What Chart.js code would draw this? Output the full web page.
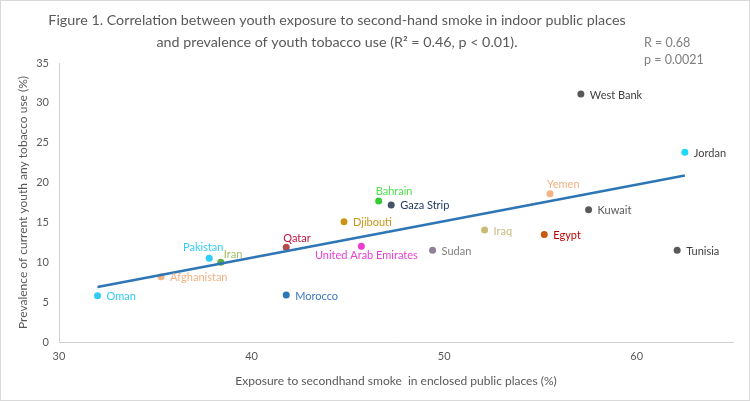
<!DOCTYPE html>
<html><head><meta charset="utf-8">
<script src="https://cdn.jsdelivr.net/npm/chart.js@4"></script>
<style>html,body{margin:0;padding:0;background:#fff;}#wrap{width:750px;height:401px;}</style>
</head><body><div id="wrap"><canvas id="c" width="750" height="401"></canvas></div>
<script>
// ---- data ----
const countries = ["Oman","Afghanistan","Pakistan","Iran","Qatar","Morocco","United Arab Emirates","Djibouti","Bahrain","Gaza Strip","Sudan","Iraq","Egypt","Yemen","Kuwait","West Bank","Jordan","Tunisia"];
const exposure  = [32.0, 35.3, 37.8, 38.4, 41.8, 41.8, 45.7, 44.8, 46.6, 47.25, 49.4, 52.1, 55.2, 55.5, 57.5, 57.1, 62.5, 62.1];
const prevalence= [5.8, 8.2, 10.5, 10.0, 11.9, 5.9, 12.0, 15.1, 17.7, 17.2, 11.5, 14.05, 13.5, 18.6, 16.6, 31.1, 23.8, 11.5];
const trendX = [32.0, 62.5];
const trendY = [6.9, 20.9];
const xTicks = [30, 40, 50, 60];
const yTicks = [0, 5, 10, 15, 20, 25, 30, 35];
const titleLines = ["Figure 1. Correlation between youth exposure to second-hand smoke in indoor public places", "and prevalence of youth tobacco use (R\u00B2 = 0.46, p < 0.01)."];
const statLines = ["R = 0.68", "p = 0.0021"];
const xTitle = "Exposure to secondhand smoke  in enclosed public places (%)";
const yTitle = "Prevalence of current youth any tobacco use (%)";

// ---- styles ----
const markerColors = ["#33ccf5","#f4b183","#33ccf5","#5fae3f","#b84a48","#2e75b6","#e83fd1","#c9961a","#33cc33","#44546a","#8e7f9a","#c9bb70","#c55a11","#f4b183","#595959","#595959","#1fd8f5","#595959"];
const labelColors  = ["#33ccf5","#f4b183","#33ccf5","#9cbf63","#c0143c","#3a78c0","#e83fd1","#c9961a","#4fe34f","#1f3864","#7f7f7f","#c9bb80","#c00000","#f4b183","#595959","#404040","#404040","#404040"];
const labelPlace   = ["right","right","aboveLeft","aboveRight","above","right","below","right","above","right","right","right","right","above","right","right","right","right"];
const FONT = "Lato, 'Liberation Sans', sans-serif";

const labelPlugin = {
  id: 'labels',
  afterDatasetsDraw(chart) {
    const ctx = chart.ctx, xs = chart.scales.x, ys = chart.scales.y;
    ctx.save();
    ctx.font = "11px " + FONT;
    countries.forEach((name, i) => {
      const px = xs.getPixelForValue(exposure[i]);
      const py = ys.getPixelForValue(prevalence[i]);
      ctx.fillStyle = labelColors[i];
      ctx.textBaseline = 'middle';
      const p = labelPlace[i];
      if (p === 'right') { ctx.textAlign = 'left'; ctx.fillText(name, px + 9, py + 1); }
      else if (p === 'above') { ctx.textAlign = 'left'; ctx.fillText(name, px - 3, py - 9); }
      else if (p === 'aboveLeft') { ctx.textAlign = 'center'; ctx.fillText(name, px - 6, py - 11); }
      else if (p === 'aboveRight') { ctx.textAlign = 'left'; ctx.fillText(name, px + 3, py - 8); }
      else if (p === 'below') { ctx.textAlign = 'center'; ctx.fillText(name, px + 5, py + 9); }
    });
    ctx.restore();
  }
};
const decorPlugin = {
  id: 'decor',
  beforeDraw(chart) {
    const ctx = chart.ctx;
    ctx.save();
    ctx.fillStyle = '#fff'; ctx.fillRect(0, 0, 750, 401);
    ctx.strokeStyle = '#d9d9d9'; ctx.lineWidth = 1; ctx.strokeRect(0.5, 0.5, 749, 400);
    ctx.fillStyle = '#595959'; ctx.textAlign = 'center'; ctx.textBaseline = 'middle';
    ctx.font = "14.3px " + FONT;
    ctx.fillText(titleLines[0], 337, 20);
    ctx.fillText(titleLines[1], 337, 42);
    ctx.font = "12.5px " + FONT; ctx.textAlign = 'left'; ctx.fillStyle = '#7f7f7f';
    ctx.fillText(statLines[0], 644, 43);
    ctx.fillText(statLines[1], 644, 60);
    ctx.restore();
  }
};

new Chart(document.getElementById('c'), {
  type: 'scatter',
  data: {
    datasets: [
      {
        type: 'line',
        data: trendX.map((x, i) => ({x, y: trendY[i]})),
        borderColor: '#2e75b6', borderWidth: 2.5, pointRadius: 0, fill: false
      },
      {
        data: exposure.map((x, i) => ({x, y: prevalence[i]})),
        backgroundColor: markerColors, borderColor: markerColors, pointRadius: 3.5, pointBorderWidth: 0
      }
    ]
  },
  options: {
    responsive: false, animation: false, devicePixelRatio: 1,
    layout: { padding: { left: 0, right: 17, top: 63, bottom: 0 } },
    plugins: { legend: { display: false }, tooltip: { enabled: false }, title: { display: false } },
    scales: {
      x: {
        type: 'linear', min: 30, max: 65,
        afterBuildTicks: s => { s.ticks = xTicks.map(v => ({value: v})); },
        afterFit: s => { s.height = 59; },
        grid: { display: false, drawTicks: false },
        border: { display: true, color: '#d0d0d0', width: 1 },
        ticks: { color: '#595959', font: { size: 11, family: FONT }, padding: 8, maxRotation: 0 },
        title: { display: true, text: xTitle, color: '#595959', font: { size: 12, family: FONT }, padding: { top: 0, bottom: 13 } }
      },
      y: {
        type: 'linear', min: 0, max: 35,
        afterBuildTicks: s => { s.ticks = yTicks.map(v => ({value: v})); },
        afterFit: s => { s.width = 59; },
        grid: { display: false, drawTicks: false },
        border: { display: true, color: '#d0d0d0', width: 1 },
        ticks: { color: '#595959', font: { size: 11, family: FONT }, padding: 10 },
        title: { display: true, text: yTitle, color: '#595959', font: { size: 12, family: FONT }, padding: { top: 16, bottom: 0 } }
      }
    }
  },
  plugins: [decorPlugin, labelPlugin]
});
</script></body></html>
